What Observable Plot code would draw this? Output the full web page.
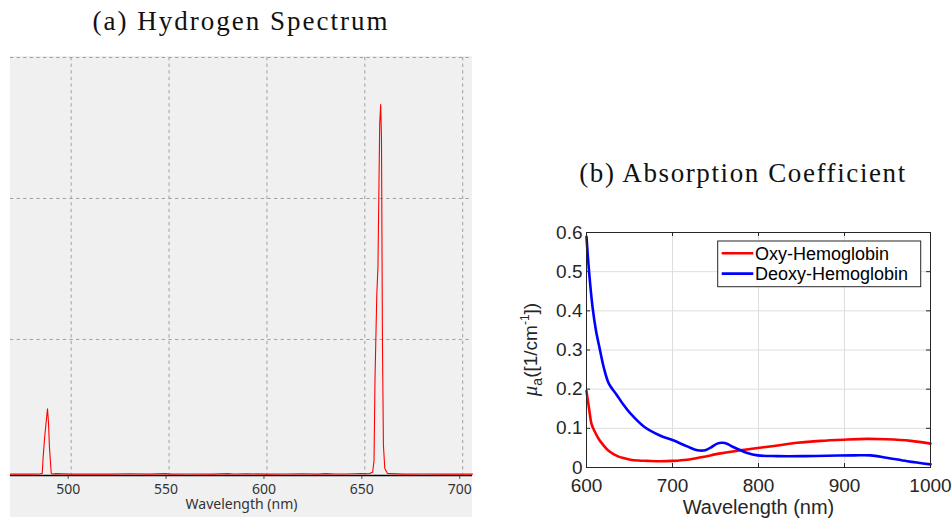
<!DOCTYPE html>
<html>
<head>
<meta charset="utf-8">
<script src="https://cdn.jsdelivr.net/npm/d3@7"></script>
<script src="https://cdn.jsdelivr.net/npm/@observablehq/plot@0.6"></script>
<style>
  html, body { margin: 0; padding: 0; background: #fff; width: 952px; height: 521px; overflow: hidden; position: relative; }
  .title { position: absolute; font-family: "Liberation Serif", serif; font-size: 27px; line-height: 27px; color: #111; white-space: nowrap; transform: translateX(-50%); }
  #panelA { position: absolute; left: 10px; top: 56px; }
  #panelB { position: absolute; left: 520px; top: 190px; }
</style>
</head>
<body>
<div class="title" id="titleA" style="left:241px; top:8px; letter-spacing:2px;">(a) Hydrogen Spectrum</div>
<div class="title" id="titleB" style="left:743px; top:160px; letter-spacing:1.6px;">(b) Absorption Coefficient</div>
<div id="panelA"></div>
<div id="panelB"></div>
<script>
// ---------- Panel (a): hydrogen spectrum ----------
const specWavelength = [469, 475, 480, 484, 485.2, 485.7, 486.4, 487.2, 487.9, 488.4, 488.9, 489.8, 490.5, 492, 500, 512, 520, 530, 540, 548, 551, 560, 572, 580, 583, 590, 600, 610, 618, 626, 630, 635, 640, 645, 648, 652, 654.0, 654.7, 655.2, 656.1, 656.7, 657.6, 658.1, 658.5, 659.0, 659.5, 660.2, 661.6, 663, 670, 680, 690, 698, 705];
const specIntensity  = [45, 45, 45, 46, 50, 170, 297, 413, 508, 413, 236, 51, 46, 48, 45, 45, 45, 47, 45, 48, 45, 46, 45, 48, 46, 47, 45, 46, 47, 45, 48, 46, 46, 47, 48, 47, 58, 141, 723, 1312, 1510, 2531, 2666, 2432, 978, 248, 85, 49, 48, 45, 46, 45, 45, 45];
const specXTicks = [500, 550, 600, 650, 700];
const specYGrid = [1000, 2000, 3000];
const specYFloor = 35;

const spectrum = specWavelength.map((w, i) => ({w, v: specIntensity[i]}));

const plotA = Plot.plot({
  width: 462,
  height: 461,
  marginTop: 1,
  marginBottom: 42,
  marginLeft: 0,
  marginRight: 0,
  style: {background: "#f0f0f0", fontFamily: "'Noto Sans', sans-serif", fontSize: "14px", color: "#333", overflow: "visible"},
  x: {domain: [469, 705]},
  y: {domain: [specYFloor, 3000], axis: null},
  marks: [
    Plot.gridX(specXTicks, {stroke: "#a0a0a0", strokeOpacity: 1, strokeDasharray: "3.3,3.3"}),
    Plot.gridY(specYGrid, {stroke: "#a0a0a0", strokeOpacity: 1, strokeDasharray: "3.3,3.3"}),
    Plot.axisX(specXTicks, {tickSize: 4, tickPadding: 5, stroke: "#555", fill: "#333", fontSize: 14, dx: -3, label: null, tickFormat: d => String(d)}),
    Plot.ruleY([specYFloor], {stroke: "#000", strokeWidth: 1.5}),
    Plot.line(spectrum, {x: "w", y: "v", stroke: "#ff0000", strokeWidth: 1.1}),
    Plot.text(["Wavelength (nm)"], {text: d => d, frameAnchor: "bottom", lineAnchor: "bottom", dy: 33, fontSize: 14, fill: "#333"})
  ]
});
document.getElementById("panelA").appendChild(plotA);

// ---------- Panel (b): absorption coefficient ----------
const oxyWavelength = [600, 603, 606, 610, 615, 620, 625, 630, 636, 643, 651, 660, 671, 686, 700, 717, 735, 756, 779, 799, 818, 845, 872, 899, 926, 949, 977, 1000];
const oxyMua        = [0.195, 0.150, 0.110, 0.090, 0.070, 0.056, 0.044, 0.036, 0.029, 0.024, 0.020, 0.018, 0.017, 0.016, 0.017, 0.020, 0.027, 0.036, 0.044, 0.050, 0.055, 0.063, 0.068, 0.071, 0.073, 0.072, 0.068, 0.061];
const deoxyWavelength = [600, 603, 607, 611, 615, 620, 626, 635, 643, 651, 667, 686, 700, 717, 729, 738, 746, 752, 758, 764, 770, 777, 787, 799, 822, 853, 880, 911, 930, 949, 973, 1000];
const deoxyMua        = [0.589, 0.500, 0.410, 0.350, 0.307, 0.256, 0.214, 0.186, 0.160, 0.138, 0.104, 0.081, 0.070, 0.054, 0.044, 0.044, 0.053, 0.061, 0.063, 0.060, 0.053, 0.046, 0.037, 0.031, 0.029, 0.029, 0.030, 0.031, 0.031, 0.025, 0.016, 0.008];
const absXTicks = [600, 700, 800, 900, 1000];
const absYTicks = [0, 0.1, 0.2, 0.3, 0.4, 0.5, 0.6];
const seriesNames = ["Oxy-Hemoglobin", "Deoxy-Hemoglobin"];
const seriesColors = ["#ff0000", "#0000ff"];

const absData = [
  ...oxyWavelength.map((w, i) => ({w, mu: oxyMua[i], s: seriesNames[0]})),
  ...deoxyWavelength.map((w, i) => ({w, mu: deoxyMua[i], s: seriesNames[1]}))
];

const wB = 432, hB = 331, mL = 66, mR = 22, mT = 42, mB = 54;
const frameW = wB - mL - mR, frameH = hB - mT - mB, tickLen = 4;
const ink = "#262626";

const plotB = Plot.plot({
  width: wB,
  height: hB,
  marginLeft: mL,
  marginRight: mR,
  marginTop: mT,
  marginBottom: mB,
  style: {background: "transparent", fontFamily: "'Liberation Sans', Arial, sans-serif", fontSize: "19px", color: ink, overflow: "visible"},
  x: {domain: [600, 1000]},
  y: {domain: [0, 0.6]},
  color: {domain: seriesNames, range: seriesColors},
  marks: [
    Plot.gridX(absXTicks, {stroke: "#dedede", strokeOpacity: 1}),
    Plot.gridY(absYTicks, {stroke: "#dedede", strokeOpacity: 1}),
    Plot.axisX(absXTicks, {tickSize: 0, tickPadding: 11, fontSize: 19, fill: ink, label: null, tickFormat: d => String(d)}),
    Plot.axisY(absYTicks, {tickSize: 0, tickPadding: 4, fontSize: 19, fill: ink, label: null, tickFormat: d => String(d)}),
    Plot.line(absData, {x: "w", y: "mu", z: "s", stroke: "s", strokeWidth: 2.6, curve: "catmull-rom", strokeLinejoin: "round"}),
    Plot.tickX(absXTicks, {x: d => d, insetTop: frameH - tickLen, stroke: ink}),
    Plot.tickX(absXTicks, {x: d => d, insetBottom: frameH - tickLen, stroke: ink}),
    Plot.tickY(absYTicks, {y: d => d, insetRight: frameW - tickLen, stroke: ink}),
    Plot.tickY(absYTicks, {y: d => d, insetLeft: frameW - tickLen, stroke: ink}),
    Plot.frame({stroke: ink, strokeWidth: 1}),
    Plot.text(["Wavelength (nm)"], {text: d => d, frameAnchor: "bottom", lineAnchor: "bottom", dy: 46, fontSize: 20, fill: ink})
  ]
});
document.getElementById("panelB").appendChild(plotB);

// y-axis label with italic mu, subscript and superscript
const svgB = d3.select(plotB);
const ylab = svgB.append("text")
  .attr("transform", `translate(${mL - 49},${mT + frameH / 2}) rotate(-90)`)
  .attr("text-anchor", "middle")
  .attr("fill", ink)
  .attr("font-family", "'Liberation Sans', Arial, sans-serif")
  .attr("font-size", 19);
ylab.append("tspan").attr("font-family", "'Liberation Serif', serif").attr("font-style", "italic").attr("font-size", 21).text("μ");
ylab.append("tspan").attr("font-size", 14).attr("dy", 5).text("a");
ylab.append("tspan").attr("dy", -5).text("([1/cm");
ylab.append("tspan").attr("font-size", 12).attr("dy", -8).text("-1");
ylab.append("tspan").attr("dy", 8).text("])");

// legend
const lg = svgB.append("g")
  .attr("font-family", "'Liberation Sans', Arial, sans-serif")
  .attr("font-size", 18)
  .attr("fill", "#000")
  .attr("text-anchor", "start");
lg.append("rect").attr("x", 197.7).attr("y", 51).attr("width", 203).attr("height", 45.7)
  .attr("fill", "#fff").attr("stroke", ink).attr("stroke-width", 1);
seriesNames.forEach((name, i) => {
  const yy = 63.3 + i * 20.3;
  lg.append("line").attr("x1", 201.7).attr("x2", 233.3).attr("y1", yy).attr("y2", yy)
    .attr("stroke", seriesColors[i]).attr("stroke-width", 2.6);
  lg.append("text").attr("x", 235).attr("y", yy).attr("dy", "0.35em").attr("text-anchor", "start").text(name);
});
</script>
</body>
</html>
